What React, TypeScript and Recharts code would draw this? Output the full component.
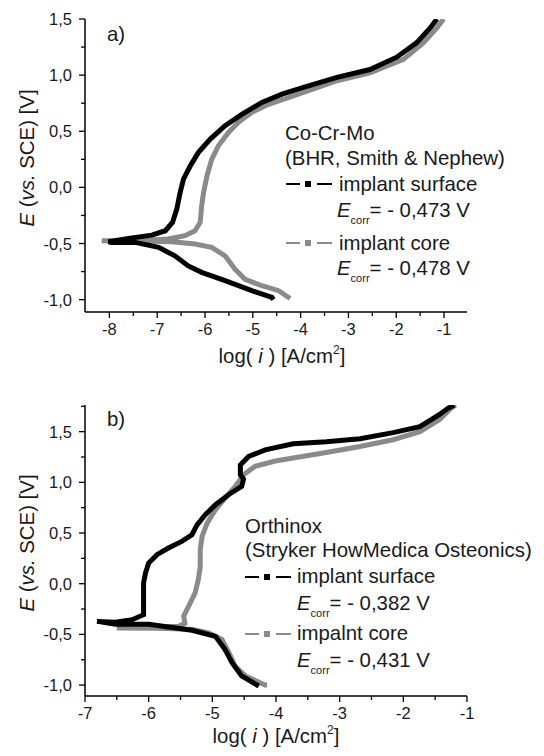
import React from "react";
import { LineChart, Line, XAxis, YAxis } from "recharts";

// panel a) Co-Cr-Mo (BHR, Smith & Nephew) — log(i) vs E, in sweep order
const aSurfaceX = [-4.57, -4.6, -5.02, -5.58, -6.07, -6.35, -6.63, -6.97, -7.46, -7.95, -8.02, -7.6, -7.11, -6.83, -6.68, -6.59, -6.52, -6.45, -6.31, -6.14, -5.89, -5.58, -5.23, -4.81, -4.39, -3.94, -3.24, -2.55, -1.99, -1.57, -1.29, -1.15];
const aSurfaceE = [-1.0, -0.98, -0.92, -0.83, -0.757, -0.7, -0.61, -0.534, -0.49, -0.49, -0.484, -0.454, -0.425, -0.386, -0.312, -0.193, -0.045, 0.074, 0.19, 0.31, 0.43, 0.55, 0.65, 0.757, 0.83, 0.89, 0.98, 1.05, 1.16, 1.29, 1.42, 1.5];
const aCoreX = [-4.22, -4.46, -4.81, -5.16, -5.37, -5.58, -5.86, -6.21, -6.69, -7.46, -8.16, -7.46, -6.77, -6.42, -6.21, -6.1, -6.07, -6.03, -5.96, -5.86, -5.72, -5.51, -5.3, -5.02, -4.67, -4.32, -3.94, -3.24, -2.55, -1.85, -1.43, -1.15, -1.01];
const aCoreE = [-0.99, -0.92, -0.876, -0.82, -0.73, -0.61, -0.534, -0.505, -0.484, -0.478, -0.475, -0.475, -0.46, -0.43, -0.386, -0.31, -0.164, -0.045, 0.1, 0.25, 0.37, 0.49, 0.58, 0.67, 0.74, 0.79, 0.846, 0.95, 1.02, 1.14, 1.29, 1.42, 1.5];

// panel b) Orthinox (Stryker HowMedica Osteonics)
const bSurfaceX = [-4.27, -4.54, -4.69, -4.8, -4.95, -5.32, -5.58, -6.0, -6.52, -6.81, -6.52, -6.26, -6.08, -6.08, -6.08, -6.05, -6.0, -5.87, -5.69, -5.48, -5.32, -5.24, -5.11, -4.95, -4.74, -4.54, -4.51, -4.56, -4.56, -4.43, -4.17, -3.73, -3.21, -2.68, -2.16, -1.74, -1.43, -1.3, -1.2];
const bSurfaceE = [-1.01, -0.91, -0.78, -0.65, -0.52, -0.46, -0.437, -0.4, -0.4, -0.372, -0.38, -0.355, -0.306, -0.158, 0.007, 0.105, 0.204, 0.286, 0.352, 0.417, 0.483, 0.58, 0.68, 0.78, 0.88, 0.96, 1.03, 1.075, 1.17, 1.255, 1.32, 1.38, 1.4, 1.43, 1.49, 1.55, 1.67, 1.73, 1.763];
const bCoreX = [-4.14, -4.17, -4.48, -4.64, -4.74, -4.85, -5.06, -5.32, -5.9, -6.5, -6.0, -5.53, -5.43, -5.45, -5.37, -5.27, -5.22, -5.19, -5.19, -5.16, -5.08, -4.95, -4.8, -4.64, -4.51, -4.33, -4.01, -3.73, -3.21, -2.68, -2.16, -1.74, -1.43, -1.27, -1.18];
const bCoreE = [-1.0, -1.0, -0.91, -0.815, -0.68, -0.55, -0.486, -0.45, -0.44, -0.437, -0.427, -0.42, -0.39, -0.32, -0.22, -0.09, 0.04, 0.17, 0.335, 0.47, 0.6, 0.73, 0.845, 0.96, 1.075, 1.157, 1.21, 1.24, 1.295, 1.354, 1.42, 1.5, 1.62, 1.72, 1.763];

const aXTicks = [-8, -7.5, -7, -6.5, -6, -5.5, -5, -4.5, -4, -3.5, -3, -2.5, -2, -1.5, -1];
const aYTicks = [-1, -0.75, -0.5, -0.25, 0, 0.25, 0.5, 0.75, 1, 1.25, 1.5];
const bXTicks = [-7, -6.5, -6, -5.5, -5, -4.5, -4, -3.5, -3, -2.5, -2, -1.5, -1];
const bYTicks = [-1, -0.75, -0.5, -0.25, 0, 0.25, 0.5, 0.75, 1, 1.25, 1.5, 1.75];

const zip = (xs: number[], ys: number[]) => xs.map((x, i) => ({ x, y: ys[i] }));

const FONT = "'Liberation Sans', Arial, sans-serif";
const BLACK = "#000000";
const GREY = "#8a8a8a";
const TEXT = "#1a1a1a";
const FS = 20.4;

const isMajor = (v: number, step: number) => Math.abs(v / step - Math.round(v / step)) < 1e-6;

const XTick = (props: any) => {
  const { x, y, payload } = props;
  const v = payload.value;
  const major = isMajor(v, 1);
  return (
    <g>
      <line x1={x} y1={y} x2={x} y2={y + (major ? 6 : 4)} stroke="#000" strokeWidth={1.3} />
      {major && (
        <text x={x} y={y + 22.5} textAnchor="middle" fontSize={16.5} fontFamily={FONT} fill={TEXT}>
          {String(v)}
        </text>
      )}
    </g>
  );
};

const YTick = (props: any) => {
  const { x, y, payload } = props;
  const v = payload.value;
  const major = isMajor(v, 0.5);
  return (
    <g>
      <line x1={x} y1={y} x2={x - (major ? 6 : 4)} y2={y} stroke="#000" strokeWidth={1.3} />
      {major && (
        <text x={x - 13} y={y + 6} textAnchor="end" fontSize={16.5} fontFamily={FONT} fill={TEXT}>
          {v.toFixed(1).replace(".", ",")}
        </text>
      )}
    </g>
  );
};

const Panel = ({ surface, core, xDomain, yDomain, xTicks, yTicks, height, margin }: any) => (
  <LineChart width={544} height={height} margin={margin}>
    <XAxis
      type="number"
      dataKey="x"
      domain={xDomain}
      ticks={xTicks}
      interval={0}
      allowDataOverflow
      tickSize={0}
      tickMargin={0}
      tickLine={false}
      tick={<XTick />}
      height={30}
      axisLine={{ stroke: "#000", strokeWidth: 1.5 }}
    />
    <YAxis
      type="number"
      dataKey="y"
      domain={yDomain}
      ticks={yTicks}
      interval={0}
      allowDataOverflow
      tickSize={0}
      tickMargin={0}
      tickLine={false}
      tick={<YTick />}
      width={60}
      axisLine={{ stroke: "#000", strokeWidth: 1.5 }}
    />
    <Line data={core} dataKey="y" stroke={GREY} strokeWidth={5} dot={false} isAnimationActive={false} />
    <Line data={surface} dataKey="y" stroke={BLACK} strokeWidth={5} dot={false} isAnimationActive={false} />
  </LineChart>
);

const Symbol = ({ x, y, color }: { x: number; y: number; color: string }) => (
  <g>
    <line x1={x} y1={y} x2={x + 14} y2={y} stroke={color} strokeWidth={2} />
    <rect x={x + 19} y={y - 3} width={6} height={6} fill={color} />
    <line x1={x + 31} y1={y} x2={x + 46} y2={y} stroke={color} strokeWidth={2} />
  </g>
);

const Ecorr = ({ x, y, value }: { x: number; y: number; value: string }) => (
  <text x={x} y={y} fontSize={FS} fontFamily={FONT} fill={TEXT}>
    <tspan fontStyle="italic">E</tspan>
    <tspan fontSize={11} dy={7}>corr</tspan>
    <tspan dy={-7}>{"= - " + value + " V"}</tspan>
  </text>
);

const YLabel = ({ cy }: { cy: number }) => (
  <text
    x={34}
    y={cy}
    transform={`rotate(-90 34 ${cy})`}
    textAnchor="middle"
    fontSize={FS}
    fontFamily={FONT}
    fill={TEXT}
  >
    <tspan fontStyle="italic">E</tspan>
    <tspan> (</tspan>
    <tspan fontStyle="italic">vs.</tspan>
    <tspan> SCE) [V]</tspan>
  </text>
);

const XLabel = ({ cx, y }: { cx: number; y: number }) => (
  <text x={cx} y={y} textAnchor="middle" fontSize={FS} fontFamily={FONT} fill={TEXT}>
    <tspan>log( </tspan>
    <tspan fontStyle="italic">i</tspan>
    <tspan> ) [A/cm</tspan>
    <tspan fontSize={12} dy={-9}>2</tspan>
    <tspan dy={9}>]</tspan>
  </text>
);

const T = ({ x, y, children }: any) => (
  <text x={x} y={y} fontSize={FS} fontFamily={FONT} fill={TEXT}>
    {children}
  </text>
);

export default function App() {
  return (
    <div style={{ position: "absolute", left: 0, top: 0, width: 544, height: 756, background: "#fff" }}>
      <div style={{ position: "absolute", left: 0, top: 0 }}>
        <Panel
          surface={zip(aSurfaceX, aSurfaceE)}
          core={zip(aCoreX, aCoreE)}
          xDomain={[-8.51, -0.52]}
          yDomain={[-1.11, 1.5]}
          xTicks={aXTicks}
          yTicks={aYTicks}
          height={380}
          margin={{ top: 19, right: 77, bottom: 38, left: 25 }}
        />
      </div>
      <div style={{ position: "absolute", left: 0, top: 380 }}>
        <Panel
          surface={zip(bSurfaceX, bSurfaceE)}
          core={zip(bCoreX, bCoreE)}
          xDomain={[-7, -1]}
          yDomain={[-1.108, 1.763]}
          xTicks={bXTicks}
          yTicks={bYTicks}
          height={376}
          margin={{ top: 25, right: 77, bottom: 30, left: 25 }}
        />
      </div>

      <svg width={544} height={756} style={{ position: "absolute", left: 0, top: 0, pointerEvents: "none" }}>
        {/* panel a */}
        <T x={107} y={41}>a)</T>
        <YLabel cy={158} />
        <XLabel cx={282} y={363} />
        <T x={285} y={140}>Co-Cr-Mo</T>
        <T x={285} y={165}>(BHR, Smith &amp; Nephew)</T>
        <Symbol x={286} y={184} color={BLACK} />
        <T x={339} y={191}>implant surface</T>
        <Ecorr x={337} y={216.5} value="0,473" />
        <Symbol x={286} y={243} color={GREY} />
        <T x={339} y={250}>implant core</T>
        <Ecorr x={337} y={275} value="0,478" />

        {/* panel b */}
        <T x={107} y={426}>b)</T>
        <YLabel cy={543} />
        <XLabel cx={276} y={743} />
        <T x={245} y={533}>Orthinox</T>
        <T x={245} y={557}>(Stryker HowMedica Osteonics)</T>
        <Symbol x={245} y={577} color={BLACK} />
        <T x={297} y={583}>implant surface</T>
        <Ecorr x={297} y={610} value="0,382" />
        <Symbol x={245} y={634} color={GREY} />
        <T x={297} y={640}>impalnt core</T>
        <Ecorr x={297} y={667} value="0,431" />
      </svg>
    </div>
  );
}
